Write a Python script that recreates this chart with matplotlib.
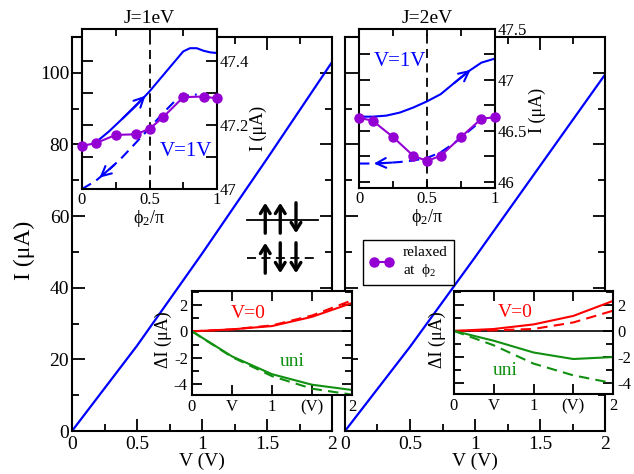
import numpy as np
import matplotlib
matplotlib.use('Agg')
import matplotlib.pyplot as plt
from matplotlib.ticker import MultipleLocator, FixedLocator, FixedFormatter
from matplotlib.lines import Line2D

plt.rcParams['font.family'] = ['Liberation Serif', 'DejaVu Serif']
plt.rcParams['mathtext.fontset'] = 'custom'
plt.rcParams['mathtext.rm'] = 'Liberation Serif'
plt.rcParams['mathtext.it'] = 'Liberation Serif:italic'
plt.rcParams['mathtext.default'] = 'rm'

# ---------------- data ----------------
V_main = [0, 0.5, 1.0, 1.5, 2.0]
I_main_J1 = [0, 23.8, 49.5, 76.0, 103.0]
I_main_J2 = [0, 23.5, 48.5, 74.0, 99.5]

phi_relax = [0, 0.1, 0.25, 0.4, 0.5, 0.6, 0.75, 0.9, 1.0]
I_relax_J1 = [47.135, 47.143, 47.169, 47.171, 47.188, 47.224, 47.287, 47.289, 47.283]
I_relax_J2 = [46.63, 46.60, 46.44, 46.255, 46.206, 46.255, 46.44, 46.62, 46.634]

phi_up_J1 = [0.1, 0.2, 0.3, 0.4, 0.5, 0.6, 0.7, 0.75, 0.8, 0.85, 0.9, 0.95, 1.0]
I_up_J1 = [47.145, 47.18, 47.22, 47.26, 47.305, 47.355, 47.405, 47.43, 47.44, 47.44, 47.432, 47.427, 47.425]
phi_dn_J1 = [0, 0.1, 0.2, 0.3, 0.4, 0.5, 0.6, 0.7, 0.8, 0.85]
I_dn_J1 = [47.0, 47.025, 47.06, 47.1, 47.145, 47.19, 47.237, 47.28, 47.295, 47.295]

phi_up_J2 = [0, 0.1, 0.2, 0.3, 0.4, 0.5, 0.6, 0.7, 0.8, 0.9, 1.0]
I_up_J2 = [46.64, 46.64, 46.65, 46.68, 46.73, 46.79, 46.86, 46.97, 47.08, 47.17, 47.21]
phi_dn_J2 = [0, 0.1, 0.2, 0.3, 0.4, 0.5, 0.6, 0.7, 0.8, 0.9]
I_dn_J2 = [46.18, 46.18, 46.185, 46.195, 46.21, 46.235, 46.29, 46.38, 46.49, 46.6]

V_d = [0, 0.5, 1.0, 1.5, 2.0]
dI_V0_J1 = [0, 0.15, 0.4, 1.1, 2.15]
dI_V0_J1_relax = [0, 0.15, 0.45, 1.2, 2.35]
dI_uni_J1 = [0, -1.9, -3.25, -4.05, -4.45]
dI_uni_J1_relax = [0, -1.95, -3.4, -4.35, -4.8]

dI_V0_J2 = [0, 0.15, 0.5, 1.15, 2.3]
dI_V0_J2_relax = [0, 0.05, 0.15, 0.65, 1.55]
dI_uni_J2 = [0, -0.75, -1.65, -2.15, -2.0]
dI_uni_J2_relax = [0, -1.1, -2.5, -3.4, -4.0]

# ---------------- style ----------------
BLUE = '#0000ff'
PURPLE = '#9400d3'
RED = '#ff0000'
GREEN = '#119011'
W, H = 634, 474

fig = plt.figure(figsize=(W / 100, H / 100), dpi=100)


def px_axes(x0, y0, x1, y1):
    return fig.add_axes([x0 / W, (H - y1) / H, (x1 - x0) / W, (y1 - y0) / H])


def spines(ax, lw=1.5):
    for s in ax.spines.values():
        s.set_linewidth(lw)


# main panels
axL = px_axes(72, 37, 332, 431)
axR = px_axes(345, 37, 605, 431)
for ax, I in ((axL, I_main_J1), (axR, I_main_J2)):
    ax.plot(V_main, I, color=BLUE, lw=1.6)
    ax.set_xlim(0, 2)
    ax.set_ylim(0, 110)
    ax.xaxis.set_major_locator(FixedLocator([0, 0.5, 1, 1.5, 2]))
    ax.xaxis.set_major_formatter(FixedFormatter(['0', '0.5', '1', '1.5', '2']))
    ax.xaxis.set_minor_locator(MultipleLocator(0.25))
    ax.yaxis.set_major_locator(MultipleLocator(20))
    ax.yaxis.set_minor_locator(MultipleLocator(10))
    ax.tick_params(which='both', direction='in', top=True, right=True, width=1.3, labelsize=14)
    ax.tick_params(which='major', length=9)
    ax.tick_params(which='minor', length=5)
    spines(ax)
    ax.set_xlabel('V (V)', fontsize=14, labelpad=0)
axR.tick_params(labelleft=False)
axL.tick_params(axis='y', pad=2)
fig.text(24 / W, 1 - 250 / H, 'I (μA)', rotation=90, ha='center', va='center', fontsize=17)

# top insets
insTL = px_axes(82, 29, 217, 189)
insTR = px_axes(359, 29, 495, 188)


def arrow_on(ax, xs, ys, x_head, x_tail):
    yh = np.interp(x_head, xs, ys)
    yt = np.interp(x_tail, xs, ys)
    ax.annotate('', xy=(x_head, yh), xytext=(x_tail, yt),
                arrowprops=dict(arrowstyle='->,head_length=0.7,head_width=0.35',
                                color=BLUE, lw=1.5, shrinkA=0, shrinkB=0))


for ax, pr, pu, iu, pd, idn, ylim in (
        (insTL, I_relax_J1, phi_up_J1, I_up_J1, phi_dn_J1, I_dn_J1, (47.0, 47.5)),
        (insTR, I_relax_J2, phi_up_J2, I_up_J2, phi_dn_J2, I_dn_J2, (45.94, 47.5))):
    ax.set_facecolor('white')
    ax.axvline(0.5, color='black', lw=1.3, ls=(0, (5, 3)))
    ax.plot(pu, iu, color=BLUE, lw=1.5)
    ax.plot(pd, idn, color=BLUE, lw=1.5, ls=(0, (5, 3)))
    ax.plot(phi_relax, pr, color=PURPLE, lw=1.5, marker='o', ms=6.5, clip_on=False, zorder=5)
    ax.set_xlim(0, 1)
    ax.set_ylim(*ylim)
    ax.xaxis.set_major_locator(FixedLocator([0, 0.5, 1]))
    ax.xaxis.set_major_formatter(FixedFormatter(['0', '0.5', '1']))
    ax.xaxis.set_minor_locator(MultipleLocator(0.25))
    ax.yaxis.tick_right()
    ax.tick_params(which='both', direction='in', top=True, left=True, right=True,
                   labelleft=False, labelright=True, width=1.3, labelsize=12, pad=2)
    ax.tick_params(axis='x', which='both', length=5)
    ax.tick_params(axis='y', which='both', length=8)
    spines(ax)
    ax.set_xlabel(r'$\phi_2/\pi$', fontsize=13, labelpad=0)

insTL.yaxis.set_major_locator(FixedLocator([47.0, 47.2, 47.4]))
insTL.yaxis.set_major_formatter(FixedFormatter(['47', '47.2', '47.4']))
insTL.yaxis.set_minor_locator(MultipleLocator(0.1))
insTR.yaxis.set_major_locator(FixedLocator([46.0, 46.5, 47.0, 47.5]))
insTR.yaxis.set_major_formatter(FixedFormatter(['46', '46.5', '47', '47.5']))
insTR.yaxis.set_minor_locator(MultipleLocator(0.25))

arrow_on(insTL, phi_up_J1, I_up_J1, 0.47, 0.30)
arrow_on(insTL, phi_dn_J1, I_dn_J1, 0.13, 0.24)
arrow_on(insTR, phi_up_J2, I_up_J2, 0.82, 0.70)
arrow_on(insTR, phi_dn_J2, I_dn_J2, 0.11, 0.24)

insTL.set_title('J=1eV', fontsize=14, pad=4)
insTR.set_title('J=2eV', fontsize=14, pad=4)
insTL.text(0.77, 47.116, 'V=1V', color=BLUE, fontsize=15, ha='center', va='center')
insTR.text(0.30, 47.18, 'V=1V', color=BLUE, fontsize=15, ha='center', va='center')
fig.text(258 / W, 1 - 128 / H, 'I (μA)', rotation=90, ha='center', va='center', fontsize=13)
fig.text(537 / W, 1 - 110 / H, 'I (μA)', rotation=90, ha='center', va='center', fontsize=13)

# bottom insets
insBL = px_axes(192, 291, 352, 395)
insBR = px_axes(454, 291, 613, 394)
for ax, a, b, c, d in ((insBL, dI_V0_J1, dI_V0_J1_relax, dI_uni_J1, dI_uni_J1_relax),
                       (insBR, dI_V0_J2, dI_V0_J2_relax, dI_uni_J2, dI_uni_J2_relax)):
    ax.set_facecolor('white')
    ax.axhline(0, color='black', lw=1.2)
    ax.plot(V_d, a, color=RED, lw=1.5)
    ax.plot(V_d, b, color=RED, lw=1.5, ls=(0, (5, 3)))
    ax.plot(V_d, c, color=GREEN, lw=1.5)
    ax.plot(V_d, d, color=GREEN, lw=1.5, ls=(0, (5, 3)))
    ax.set_xlim(0, 2)
    ax.set_ylim(-4.83, 3.06)
    ax.xaxis.set_major_locator(FixedLocator([0, 0.5, 1, 1.5, 2]))
    ax.xaxis.set_major_formatter(FixedFormatter(['0', 'V', '1', '(V)', '2']))
    ax.yaxis.set_major_locator(FixedLocator([-4, -2, 0, 2]))
    ax.yaxis.set_major_formatter(FixedFormatter(['-4', '-2', '0', '2']))
    ax.yaxis.set_minor_locator(MultipleLocator(1))
    ax.tick_params(which='both', direction='in', top=True, left=True, right=True,
                   width=1.3, labelsize=12, pad=3)
    ax.tick_params(which='major', length=7)
    ax.tick_params(which='minor', length=5)
    spines(ax)

insBR.tick_params(labelleft=False, labelright=True)
insBL.text(0.7, 1.36, 'V=0', color=RED, fontsize=14, ha='center', va='center')
insBL.text(1.25, -2.26, 'uni', color=GREEN, fontsize=14, ha='center', va='center')
insBR.text(0.77, 1.43, 'V=0', color=RED, fontsize=14, ha='center', va='center')
insBR.text(0.64, -3.0, 'uni', color=GREEN, fontsize=14, ha='center', va='center')
fig.text(163 / W, 1 - 340 / H, 'ΔI (μA)', rotation=90, ha='center', va='center', fontsize=13)
fig.text(437 / W, 1 - 340 / H, 'ΔI (μA)', rotation=90, ha='center', va='center', fontsize=13)

# spin schematic
sch = px_axes(245, 198, 320, 278)
sch.set_xlim(0, 1)
sch.set_ylim(0, 1)
sch.axis('off')
sch.plot([0.03, 0.97], [0.725, 0.725], color='black', lw=1.3)
sch.plot([0.03, 0.97], [0.25, 0.25], color='black', lw=1.3, ls=(0, (5, 3)))
spin_x = [0.27, 0.47, 0.68]
spins_top = [1, 1, -1]
spins_bot = [1, -1, -1]
for row, (lo, hi) in ((spins_top, (0.56, 0.94)), (spins_bot, (0.06, 0.44))):
    for xs, s in zip(spin_x, row):
        a, b = (lo, hi) if s > 0 else (hi, lo)
        sch.annotate('', xy=(xs, b), xytext=(xs, a),
                     arrowprops=dict(arrowstyle='->,head_length=0.55,head_width=0.35',
                                     color='black', lw=2.4, shrinkA=0, shrinkB=0))

# legend
handle = Line2D([], [], color=PURPLE, lw=1.5, marker='o', ms=6.5)
leg = fig.legend([handle], ['relaxed\nat  $\\phi_2$'], loc='upper left',
                 bbox_to_anchor=(363 / W, 1 - 240 / H), bbox_transform=fig.transFigure,
                 borderaxespad=0, fancybox=False, edgecolor='black', framealpha=1,
                 fontsize=11, handlelength=1.6, numpoints=2, borderpad=0.4,
                 handletextpad=0.6)
leg.get_frame().set_linewidth(1.0)

fig.savefig('out.png', dpi=100)
